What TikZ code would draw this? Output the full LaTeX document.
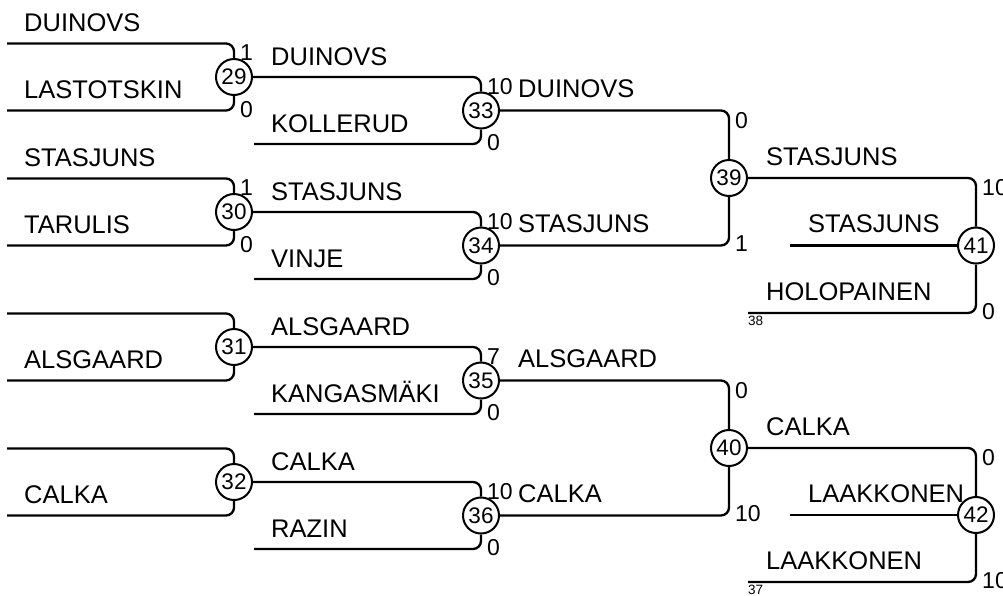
\documentclass[tikz,border=0pt]{standalone}
\usepackage{fontspec}
\setmainfont{Liberation Sans}
\begin{document}
\begin{tikzpicture}[x=1pt,y=-1pt,
 conn/.style={line width=2.3pt, rounded corners=8pt},
 matchc/.style={circle, draw, line width=2pt, minimum size=36pt, inner sep=0pt, fill=white, font=\fontsize{22.5}{22.5}\selectfont},
 plname/.style={anchor=base west, inner sep=0pt, font=\fontsize{25.5}{25.5}\selectfont},
 scoretop/.style={anchor=north west, inner sep=0pt, font=\fontsize{23}{23}\selectfont},
 scorebot/.style={anchor=west, inner sep=0pt, font=\fontsize{23}{23}\selectfont},
 seedlbl/.style={anchor=north west, inner sep=0pt, font=\fontsize{13.5}{13.5}\selectfont}]
\useasboundingbox (0,0) rectangle (1003,595);

% match circles
\node[matchc] (m29) at (234,77) {29};
\node[matchc] (m30) at (234,212) {30};
\node[matchc] (m31) at (234,347) {31};
\node[matchc] (m32) at (234,482) {32};
\node[matchc] (m33) at (481,110.5) {33};
\node[matchc] (m34) at (481,245.5) {34};
\node[matchc] (m35) at (481,380.5) {35};
\node[matchc] (m36) at (481,515.5) {36};
\node[matchc] (m39) at (729,178) {39};
\node[matchc] (m40) at (729,448) {40};
\node[matchc] (m41) at (976,245.5) {41};
\node[matchc] (m42) at (976,515) {42};

% free line ends
\coordinate (a29t) at (7,43.5);  \coordinate (a29b) at (7,110.5);
\coordinate (a30t) at (7,178.5); \coordinate (a30b) at (7,245.5);
\coordinate (a31t) at (7,313.5); \coordinate (a31b) at (7,380.5);
\coordinate (a32t) at (7,448.5); \coordinate (a32b) at (7,515.5);
\coordinate (s33b) at (254,144);
\coordinate (s34b) at (254,279);
\coordinate (s35b) at (254,414);
\coordinate (s36b) at (254,549);
\coordinate (s41m) at (790,245.5); \coordinate (s41b) at (748,313);
\coordinate (s42m) at (790,515);   \coordinate (s42b) at (748,582);

% round 1
\draw[conn] (a29t) -| (m29.north); \draw[conn] (a29b) -| (m29.south);
\draw[conn] (a30t) -| (m30.north); \draw[conn] (a30b) -| (m30.south);
\draw[conn] (a31t) -| (m31.north); \draw[conn] (a31b) -| (m31.south);
\draw[conn] (a32t) -| (m32.north); \draw[conn] (a32b) -| (m32.south);
% round 2
\draw[conn] (m29.east) -| (m33.north); \draw[conn] (s33b) -| (m33.south);
\draw[conn] (m30.east) -| (m34.north); \draw[conn] (s34b) -| (m34.south);
\draw[conn] (m31.east) -| (m35.north); \draw[conn] (s35b) -| (m35.south);
\draw[conn] (m32.east) -| (m36.north); \draw[conn] (s36b) -| (m36.south);
% round 3
\draw[conn] (m33.east) -| (m39.north); \draw[conn] (m34.east) -| (m39.south);
\draw[conn] (m35.east) -| (m40.north); \draw[conn] (m36.east) -| (m40.south);
% round 4
\draw[conn] (m39.east) -| (m41.north); \draw[conn] (s41m) -- (m41.west); \draw[conn] (s41b) -| (m41.south);
\draw[conn] (m40.east) -| (m42.north); \draw[conn] (s42m) -- (m42.west); \draw[conn] (s42b) -| (m42.south);

% names round 1
\node[plname] (n1) at (24,31.5) {DUINOVS};
\node[plname] (n2) at (24,98.5) {LASTOTSKIN};
\node[plname] (n3) at (24,166.5) {STASJUNS};
\node[plname] (n4) at (24,233.5) {TARULIS};
\node[plname] (n5) at (24,368.5) {ALSGAARD};
\node[plname] (n6) at (24,503.5) {CALKA};
% names round 2
\node[plname] (n7) at (271,65) {DUINOVS};
\node[plname] (n8) at (271,132) {KOLLERUD};
\node[plname] (n9) at (271,200) {STASJUNS};
\node[plname] (n10) at (271,267) {VINJE};
\node[plname] (n11) at (271,335) {ALSGAARD};
\node[plname] (n12) at (271,402) {KANGASMÄKI};
\node[plname] (n13) at (271,470) {CALKA};
\node[plname] (n14) at (271,537) {RAZIN};
% names round 3
\node[plname] (n15) at (518,97.5) {DUINOVS};
\node[plname] (n16) at (518,232.5) {STASJUNS};
\node[plname] (n17) at (518,367.5) {ALSGAARD};
\node[plname] (n18) at (518,502.5) {CALKA};
% names round 4
\node[plname] (n19) at (766,165) {STASJUNS};
\node[plname] (n20) at (808,232.5) {STASJUNS};
\node[plname] (n21) at (766,300) {HOLOPAINEN};
\node[plname] (n22) at (766,435) {CALKA};
\node[plname] (n23) at (808,502) {LAAKKONEN};
\node[plname] (n24) at (766,569) {LAAKKONEN};

% scores
\node[scoretop] (t29) at (240,44) {1};    \node[scorebot] (b29) at (240,109.5) {0};
\node[scoretop] (t30) at (240,179) {1};   \node[scorebot] (b30) at (240,244.5) {0};
\node[scoretop] (t33) at (487,78) {10};   \node[scorebot] (b33) at (487,143) {0};
\node[scoretop] (t34) at (487,213) {10};  \node[scorebot] (b34) at (487,278) {0};
\node[scoretop] (t35) at (487,348) {7};   \node[scorebot] (b35) at (487,413) {0};
\node[scoretop] (t36) at (487,483) {10};  \node[scorebot] (b36) at (487,548) {0};
\node[scoretop] (t39) at (735,112.5) {0}; \node[scorebot] (b39) at (735,244) {1};
\node[scoretop] (t40) at (735,382.5) {0}; \node[scorebot] (b40) at (735,514) {10};
\node[scoretop] (t41) at (982,179) {10};  \node[scorebot] (b41) at (982,312) {0};
\node[scoretop] (t42) at (982,449) {0};   \node[scorebot] (b42) at (982,581) {10};

% seeds
\node[seedlbl] (d38) at (748,316) {38};
\node[seedlbl] (d37) at (748,585) {37};
\end{tikzpicture}
\end{document}
